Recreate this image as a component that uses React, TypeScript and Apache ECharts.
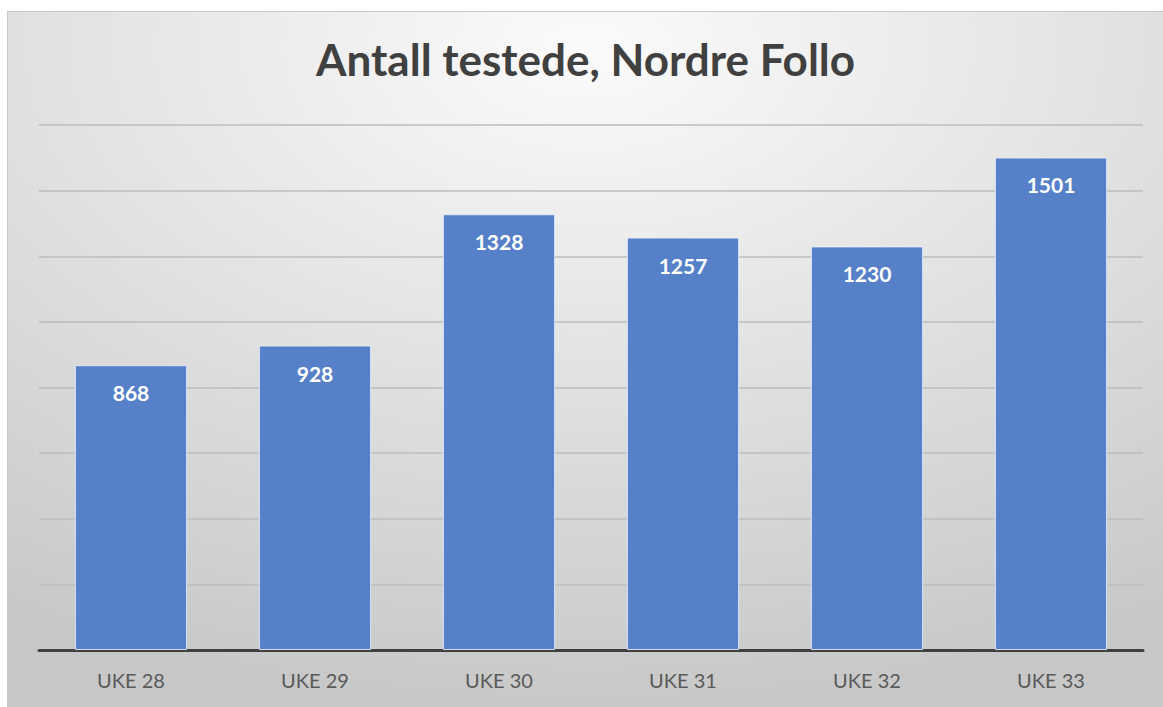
import React, { useEffect, useRef } from "react";
import * as echarts from "echarts";

const categories = ["UKE 28", "UKE 29", "UKE 30", "UKE 31", "UKE 32", "UKE 33"];
const values = [868, 928, 1328, 1257, 1230, 1501];
const titleText = "Antall testede, Nordre Follo";

export default function App() {
  const ref = useRef<HTMLDivElement>(null);
  useEffect(() => {
    if (!ref.current) return;
    const chart = echarts.init(ref.current, undefined, { renderer: "svg" });
    chart.setOption({
      animation: false,
      backgroundColor: new echarts.graphic.RadialGradient(0.5, 0.05, 0.95, [
        { offset: 0, color: "#fbfbfb" },
        { offset: 1, color: "#c8c8c8" },
      ]),
      title: {
        text: titleText,
        left: "center",
        top: 20,
        textStyle: {
          fontFamily: "Lato",
          fontWeight: "bold",
          fontSize: 44,
          color: "#404040",
        },
      },
      grid: { left: 31, right: 20, top: 113, bottom: 57 },
      xAxis: {
        type: "category",
        data: categories,
        axisTick: { show: false },
        axisLine: { lineStyle: { color: "#404040", width: 3 } },
        axisLabel: {
          margin: 20,
          fontFamily: "Lato",
          fontSize: 20,
          color: "#595959",
        },
      },
      yAxis: {
        type: "value",
        min: 0,
        max: 1600,
        interval: 200,
        axisLabel: { show: false },
        axisLine: { show: false },
        axisTick: { show: false },
        splitLine: { lineStyle: { color: "#bcbcbc", width: 1.5 } },
      },
      series: [
        {
          type: "bar",
          data: values,
          barWidth: "61%",
          itemStyle: {
            color: "#5681c9",
            borderColor: "rgba(235,240,250,0.85)",
            borderWidth: 1,
          },
          label: {
            show: true,
            position: "insideTop",
            distance: 17,
            fontFamily: "Lato",
            fontWeight: "bold",
            fontSize: 21,
            color: "#ffffff",
          },
        },
      ],
    });
    return () => chart.dispose();
  }, []);
  return (
    <div
      ref={ref}
      style={{
        position: "absolute",
        left: 7,
        top: 11,
        width: 1156,
        height: 696,
        boxSizing: "border-box",
        borderTop: "1px solid #c8c8c8",
        borderLeft: "1px solid #c8c8c8",
      }}
    />
  );
}
